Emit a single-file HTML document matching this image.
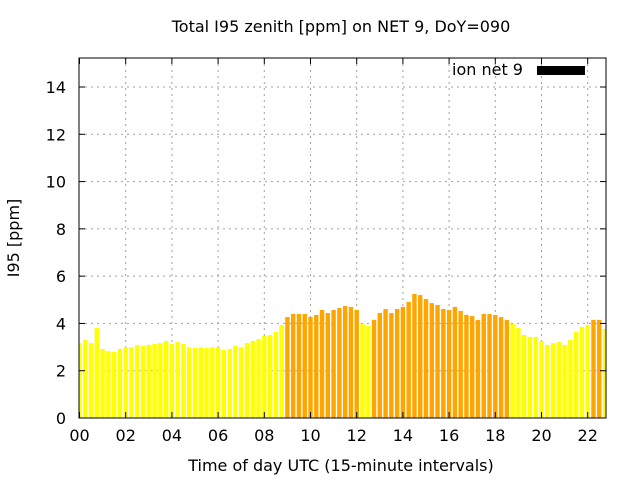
<!DOCTYPE html>
<html><head><meta charset="utf-8"><style>
body{margin:0;background:#fff}
svg{display:block;font-family:"DejaVu Sans","Liberation Sans",sans-serif}
</style></head><body>
<svg id="c" width="640" height="480">
<text x="341" y="32" text-anchor="middle" font-size="16">Total I95 zenith [ppm] on NET 9, DoY=090</text>
<text x="341" y="471" text-anchor="middle" font-size="16">Time of day UTC (15-minute intervals)</text>
<text transform="translate(19,238) rotate(-90)" text-anchor="middle" font-size="16">I95 [ppm]</text>
<defs><clipPath id="pc"><rect x="79" y="58" width="527" height="360"/></clipPath></defs>
<g id="grid"></g><g id="bars" clip-path="url(#pc)"></g><g id="axes"></g>
<text x="452" y="75" font-size="16">ion net 9</text>
<rect x="537" y="66" width="48" height="9" fill="#000"/>
</svg>
<script>
const values=[3.17,3.30,3.17,3.81,2.92,2.83,2.79,2.92,2.99,2.99,3.09,3.05,3.09,3.13,3.17,3.26,3.13,3.21,3.13,2.99,2.96,2.99,2.96,2.99,2.99,2.88,2.92,3.05,2.99,3.17,3.26,3.34,3.47,3.51,3.64,3.93,4.27,4.40,4.40,4.40,4.27,4.36,4.57,4.44,4.57,4.65,4.74,4.70,4.57,3.98,3.89,4.15,4.44,4.61,4.44,4.61,4.70,4.91,5.25,5.20,5.03,4.86,4.78,4.61,4.57,4.70,4.53,4.36,4.31,4.15,4.40,4.40,4.36,4.27,4.15,3.98,3.81,3.51,3.43,3.43,3.26,3.09,3.17,3.21,3.09,3.30,3.64,3.85,3.93,4.15,4.15,3.76];
const xTicks=[0,2,4,6,8,10,12,14,16,18,20,22];
const xTickLabels=["00","02","04","06","08","10","12","14","16","18","20","22"];
const yTicks=[0,2,4,6,8,10,12,14];
const threshold=[4];
const L=79,R=606,T=58,B=418;
const xs=h=>79.5+h*(587.7-79.5)/22;
const ys=v=>B-v*(B-87)/14;
const NS="http://www.w3.org/2000/svg";
function mk(tag,attrs,parent){const e=document.createElementNS(NS,tag);for(const k in attrs)e.setAttribute(k,attrs[k]);parent.appendChild(e);return e;}
const grid=document.getElementById('grid'),bars=document.getElementById('bars'),axes=document.getElementById('axes');
xTicks.forEach((t,i)=>{const x=xs(t);
 if(t>0){const g=mk('line',{x1:x,x2:x,y1:T,y2:B,stroke:'#a0a0a0','stroke-dasharray':'2,4'},grid);
 
 }
 mk('line',{x1:x,x2:x,y1:B,y2:B-6,stroke:'#000'},axes);
 mk('line',{x1:x,x2:x,y1:T,y2:T+6,stroke:'#000'},axes);
 const tx=mk('text',{x:x,y:B+23,'text-anchor':'middle','font-size':16},axes);tx.textContent=xTickLabels[i];
 
 
});
yTicks.forEach(t=>{const y=ys(t);
 if(t>0){const g=mk('line',{x1:L,x2:R,y1:y,y2:y,stroke:'#a0a0a0','stroke-dasharray':'2,4'},grid);
 
 }
 mk('line',{x1:L,x2:L+6,y1:y,y2:y,stroke:'#000'},axes);
 mk('line',{x1:R,x2:R-6,y1:y,y2:y,stroke:'#000'},axes);
 const tx=mk('text',{x:L-13,y:y+6,'text-anchor':'end','font-size':16},axes);tx.textContent=t;
 
 
});
values.forEach((v,i)=>{const c=xs(i*0.25);
 const r=mk('rect',{x:c-2.2,y:ys(v),width:4.4,height:B-ys(v),fill:v>=threshold[0]?'#ffa500':'#ffff00'},bars);
 
 
});
const f=mk('rect',{x:L,y:T,width:R-L,height:B-T,fill:'none',stroke:'#000'},axes);


</script>
</body></html>
